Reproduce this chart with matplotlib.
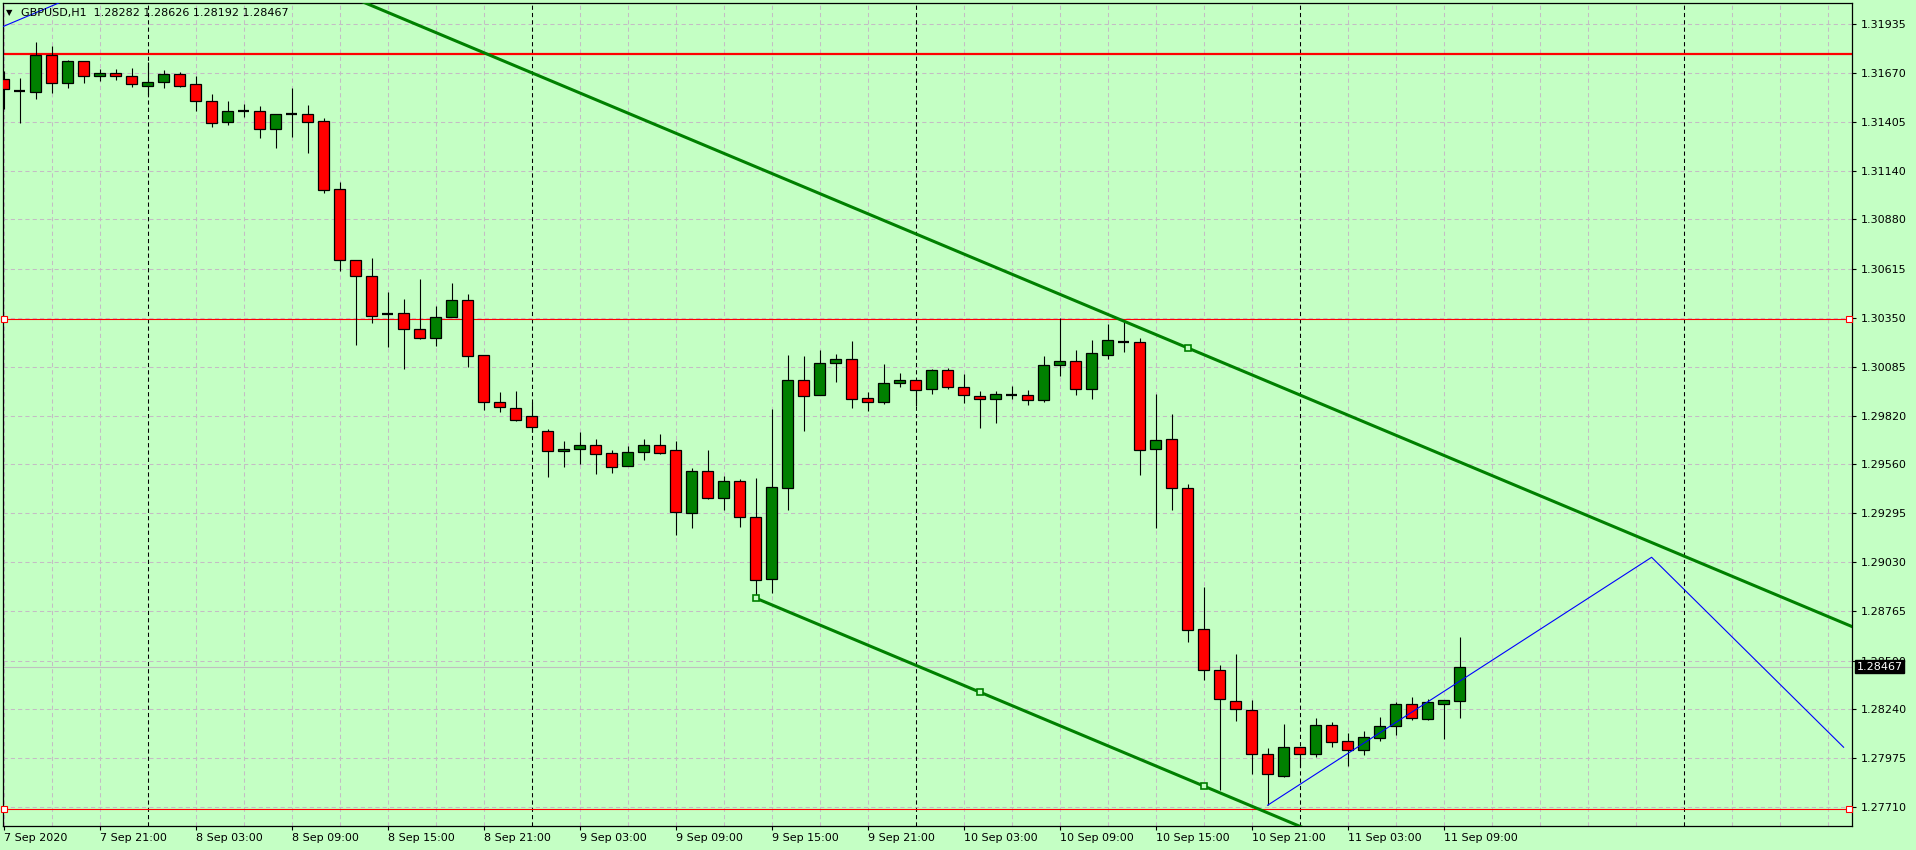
"""
GBPUSD H1 candlestick chart, MetaTrader style, with channel and levels.
"""

import matplotlib

matplotlib.use("Agg")
import matplotlib.pyplot as plt
import matplotlib.transforms as mtransforms
import numpy as np
import pandas as pd

SYMBOL = "GBPUSD,H1"
START = "2020-09-07 15:00"
N_SLOTS = 116  # hourly slots across the visible chart width

opens = [
    1.31637, 1.31575, 1.31567, 1.31768, 1.31615, 1.31735, 1.31656, 1.31671, 1.31653, 1.31602,
    1.31621, 1.31665, 1.31610, 1.31520, 1.31405, 1.31466, 1.31466, 1.31367, 1.31448, 1.31448,
    1.31410, 1.31043, 1.30660, 1.30574, 1.30372, 1.30374, 1.30288, 1.30239, 1.30352, 1.30444,
    1.30147, 1.29894, 1.29861, 1.29818, 1.29737, 1.29629, 1.29640, 1.29662, 1.29619, 1.29548,
    1.29624, 1.29662, 1.29635, 1.29295, 1.29521, 1.29379, 1.29467, 1.29273, 1.28939, 1.29433,
    1.30013, 1.29932, 1.30104, 1.30126, 1.29915, 1.29894, 1.29996, 1.30013, 1.29964, 1.30066,
    1.29975, 1.29926, 1.29910, 1.29933, 1.29932, 1.29905, 1.30093, 1.30115, 1.29964, 1.30147,
    1.30219, 1.30218, 1.29640, 1.29694, 1.29430, 1.28669, 1.28448, 1.28280, 1.28232, 1.27994,
    1.27879, 1.28032, 1.27994, 1.28151, 1.28065, 1.28016, 1.28081, 1.28146, 1.28264, 1.28183,
    1.28264, 1.28282,
]
highs = [
    1.31681, 1.31642, 1.31836, 1.31818, 1.31741, 1.31737, 1.31692, 1.31692, 1.31698, 1.31730,
    1.31685, 1.31676, 1.31655, 1.31556, 1.31520, 1.31502, 1.31493, 1.31448, 1.31590, 1.31498,
    1.31428, 1.31081, 1.30660, 1.30672, 1.30489, 1.30451, 1.30559, 1.30413, 1.30538, 1.30478,
    1.30147, 1.29949, 1.29955, 1.29895, 1.29748, 1.29685, 1.29732, 1.29694, 1.29635, 1.29658,
    1.29694, 1.29721, 1.29685, 1.29538, 1.29635, 1.29496, 1.29478, 1.29484, 1.29858, 1.30149,
    1.30144, 1.30176, 1.30154, 1.30225, 1.29948, 1.30099, 1.30050, 1.30013, 1.30072, 1.30077,
    1.30045, 1.29953, 1.29953, 1.29980, 1.29959, 1.30144, 1.30347, 1.30176, 1.30228, 1.30315,
    1.30334, 1.30239, 1.29939, 1.29831, 1.29451, 1.28896, 1.28475, 1.28536, 1.28287, 1.28027,
    1.28158, 1.28032, 1.28189, 1.28167, 1.28108, 1.28119, 1.28194, 1.28275, 1.28302, 1.28291,
    1.28286, 1.28626,
]
lows = [
    1.31476, 1.31399, 1.31532, 1.31564, 1.31591, 1.31615, 1.31629, 1.31631, 1.31597, 1.31552,
    1.31591, 1.31594, 1.31467, 1.31381, 1.31392, 1.31432, 1.31322, 1.31268, 1.31327, 1.31241,
    1.31022, 1.30604, 1.30205, 1.30323, 1.30194, 1.30072, 1.30234, 1.30199, 1.30352, 1.30086,
    1.29854, 1.29843, 1.29790, 1.29735, 1.29492, 1.29546, 1.29561, 1.29509, 1.29514, 1.29548,
    1.29584, 1.29613, 1.29179, 1.29217, 1.29374, 1.29314, 1.29222, 1.28850, 1.28863, 1.29314,
    1.29741, 1.29932, 1.30005, 1.29865, 1.29848, 1.29883, 1.29975, 1.29872, 1.29937, 1.29964,
    1.29888, 1.29757, 1.29784, 1.29910, 1.29878, 1.29894, 1.30034, 1.29932, 1.29910, 1.30126,
    1.30167, 1.29503, 1.29217, 1.29314, 1.28602, 1.28397, 1.27803, 1.28176, 1.27890, 1.27719,
    1.27873, 1.27927, 1.27981, 1.28032, 1.27933, 1.27989, 1.28065, 1.28097, 1.28178, 1.28178,
    1.28079, 1.28192,
]
closes = [
    1.31583, 1.31575, 1.31768, 1.31615, 1.31735, 1.31656, 1.31671, 1.31653, 1.31610, 1.31622,
    1.31665, 1.31602, 1.31518, 1.31402, 1.31466, 1.31466, 1.31367, 1.31448, 1.31448, 1.31405,
    1.31039, 1.30660, 1.30574, 1.30361, 1.30372, 1.30288, 1.30239, 1.30352, 1.30444, 1.30142,
    1.29894, 1.29867, 1.29797, 1.29759, 1.29629, 1.29640, 1.29662, 1.29616, 1.29543, 1.29624,
    1.29662, 1.29622, 1.29300, 1.29521, 1.29379, 1.29467, 1.29273, 1.28933, 1.29435, 1.30013,
    1.29926, 1.30104, 1.30126, 1.29910, 1.29894, 1.29996, 1.30013, 1.29959, 1.30066, 1.29975,
    1.29932, 1.29910, 1.29937, 1.29933, 1.29905, 1.30093, 1.30115, 1.29964, 1.30158, 1.30228,
    1.30219, 1.29635, 1.29689, 1.29430, 1.28664, 1.28448, 1.28291, 1.28237, 1.27994, 1.27886,
    1.28032, 1.27994, 1.28151, 1.28059, 1.28016, 1.28086, 1.28146, 1.28264, 1.28189, 1.28275,
    1.28286, 1.28467,
]

y_tick_labels = [
    "1.31935", "1.31670", "1.31405", "1.31140", "1.30880", "1.30615", "1.30350", "1.30085",
    "1.29820", "1.29560", "1.29295", "1.29030", "1.28765", "1.28500", "1.28240", "1.27975",
    "1.27710",
]
y_range = (1.27607, 1.32048)

# horizontal levels
level_top = 1.31771
level_mid = 1.30341
level_low = 1.27698

# equidistant channel anchors (bar index, price)
channel_lower_idx = [47, 61, 75]
channel_lower_px = [1.28837, 1.28331, 1.27823]
channel_upper_idx = [74]
channel_upper_px = [1.30187]

# zigzag projection (blue)
zigzag_idx = [79, 103, 115]
zigzag_px = [1.27719, 1.29057, 1.28032]

# older blue trend line leaving through the top-left corner
old_line_idx = [-0.06, 3.5]
old_line_px = [1.31920, 1.32050]

BG = "#c4ffc4"
GRID = "#c4bcc4"
UP = "#008000"
DOWN = "#ff0000"
FONT = 8


def draw_candles(ax, x, o, h, l, c):
    ax.vlines(x, l, h, color="black", lw=0.8, zorder=3)
    up = c > o
    down = c < o
    doji = c == o
    w = 0.66
    ax.bar(x[up], (c - o)[up], bottom=o[up], width=w, color=UP,
           edgecolor="black", linewidth=0.9, zorder=4)
    ax.bar(x[down], (o - c)[down], bottom=c[down], width=w, color=DOWN,
           edgecolor="black", linewidth=0.9, zorder=4)
    ax.hlines(c[doji], x[doji] - w / 2, x[doji] + w / 2, color="black", lw=1.6, zorder=4)


def main() -> None:
    slots = pd.date_range(START, periods=N_SLOTS, freq="h")
    o, h, l, c = (np.array(v) for v in (opens, highs, lows, closes))
    x = np.arange(len(o))

    fig = plt.figure(figsize=(19.16, 8.5), dpi=100, facecolor=BG)
    ax = fig.add_axes([3 / 1916, 24 / 850, 1849 / 1916, 823 / 850], facecolor=BG)

    ax.set_xlim(-0.0375, 115.525)
    ax.set_ylim(*y_range)

    # grid
    y_ticks = [float(t) for t in y_tick_labels]
    for yt in y_ticks:
        ax.axhline(yt, color=GRID, lw=0.75, ls=(0, (4, 3)), zorder=1)
    for i in range(0, N_SLOTS, 3):
        ax.axvline(i, color=GRID, lw=0.75, ls=(0, (4, 3)), zorder=1)
    # period separators at midnight
    for i, t in enumerate(slots):
        if t.hour == 0:
            ax.axvline(i, color="black", lw=0.75, ls=(0, (4, 3)), zorder=2)

    # levels
    ax.axhline(level_top, color="red", lw=1.6, zorder=2)
    for lv in (level_mid, level_low):
        ax.axhline(lv, color="red", lw=0.8, zorder=2)
        ax.plot([0.0, 115.35], [lv, lv], ls="none", marker="s", ms=4,
                mfc="white", mec="red", mew=0.8, zorder=6, clip_on=False)
    ax.axhline(c[-1], color="#c0c0c0", lw=0.8, zorder=2)

    # channel
    slope = np.polyfit(channel_lower_idx, channel_lower_px, 1)[0]
    xs = np.array([channel_lower_idx[0], 130])
    ax.plot(xs, channel_lower_px[0] + slope * (xs - channel_lower_idx[0]),
            color=UP, lw=2.2, zorder=5)
    xs_up = np.array([-10, 130])
    ax.plot(xs_up, channel_upper_px[0] + slope * (xs_up - channel_upper_idx[0]),
            color=UP, lw=2.2, zorder=5)
    ax.plot(channel_lower_idx, channel_lower_px, ls="none", marker="s", ms=4,
            mfc=BG, mec=UP, mew=1.2, zorder=6)
    ax.plot(channel_upper_idx, channel_upper_px, ls="none", marker="s", ms=4,
            mfc=BG, mec=UP, mew=1.2, zorder=6)

    # blue lines
    ax.plot(zigzag_idx, zigzag_px, color="blue", lw=0.8, zorder=5)
    k = (old_line_px[1] - old_line_px[0]) / (old_line_idx[1] - old_line_idx[0])
    xo = np.array([-2, 6])
    ax.plot(xo, old_line_px[0] + k * (xo - old_line_idx[0]), color="blue", lw=0.8, zorder=5)

    draw_candles(ax, x, o, h, l, c)

    # axes / ticks
    for s in ax.spines.values():
        s.set_color("black")
        s.set_linewidth(0.9)
    ax.yaxis.tick_right()
    ax.set_yticks(y_ticks)
    ax.set_yticklabels(y_tick_labels)
    ax.tick_params(axis="y", direction="out", length=3, width=0.8, pad=3,
                   labelsize=FONT, colors="black")

    label_idx = list(range(0, len(x), 6))
    labels = []
    for i in label_idx:
        t = slots[i]
        if i == 0:
            labels.append(f"{t.day} {t:%b %Y}")
        else:
            labels.append(f"{t.day} {t:%b %H:%M}")
    ax.set_xticks(label_idx)
    ax.set_xticklabels(labels)
    ax.tick_params(axis="x", direction="out", length=3, width=0.8, pad=2,
                   labelsize=FONT, colors="black")
    for lab in ax.get_xticklabels():
        lab.set_horizontalalignment("left")

    # current price tag
    tr = mtransforms.blended_transform_factory(ax.transAxes, ax.transData)
    ax.text(1.0025, c[-1], f"{c[-1]:.5f}", transform=tr, color="white", fontsize=FONT,
            va="center", ha="left", zorder=10, clip_on=False,
            bbox=dict(boxstyle="square,pad=0.15", fc="black", ec="black"))

    # header
    fig.text(6 / 1916, 1 - 13 / 850, "▼", fontsize=6, va="center", ha="left")
    fig.text(21 / 1916, 1 - 13 / 850,
             f"{SYMBOL}  {o[-1]:.5f} {h[-1]:.5f} {l[-1]:.5f} {c[-1]:.5f}",
             fontsize=FONT, va="center", ha="left")

    fig.savefig("out.png", dpi=100, facecolor=BG)
    plt.close(fig)


if __name__ == "__main__":
    main()
